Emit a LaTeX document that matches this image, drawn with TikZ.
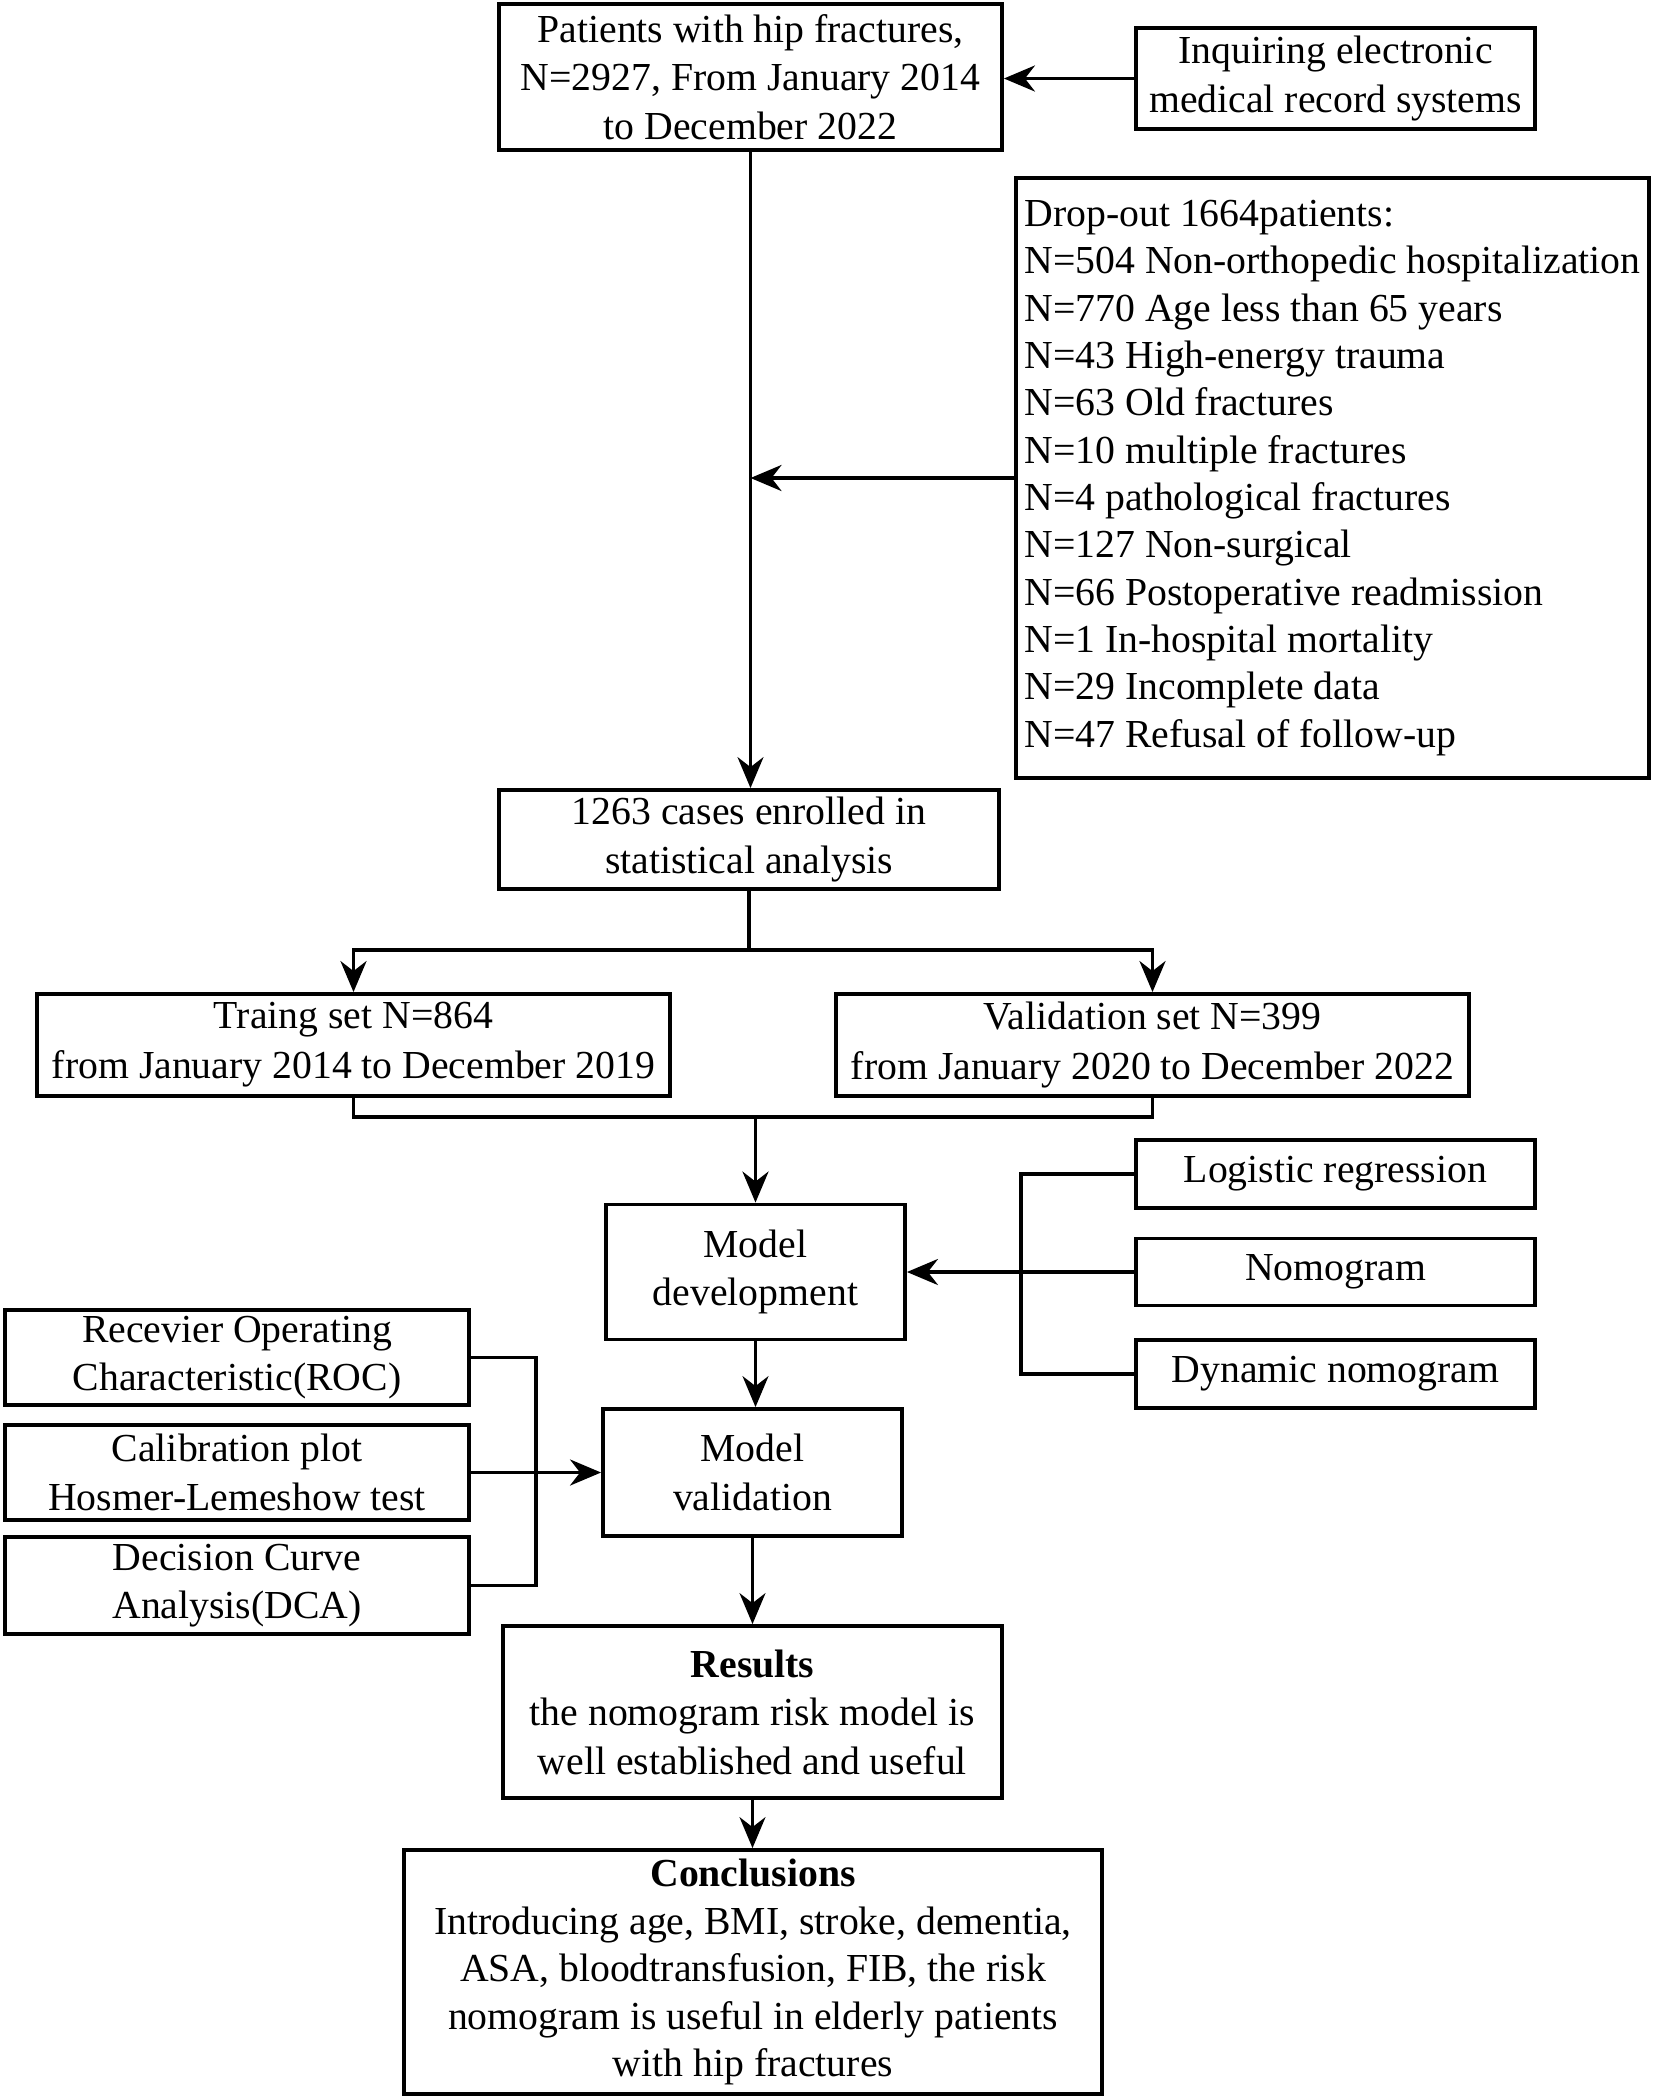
\documentclass[tikz,border=0pt]{standalone}
\usepackage{fontspec}
\setmainfont{Liberation Serif}
\usetikzlibrary{arrows.meta}
\begin{document}
\begin{tikzpicture}[x=0.1mm,y=-0.1mm,
  box/.style={draw, line width=1.1pt, align=center, inner sep=0pt, font=\fontsize{11.3}{13.8}\selectfont},
  thinline/.style={line width=0.7pt},
  thickline/.style={line width=1.1pt},
  arr/.style={-{Stealth[length=3.1mm,width=2.6mm,inset=1mm]}}]
\useasboundingbox[fill=white] (0,0) rectangle (1654,2099);

\node[box, minimum width=50.3mm, minimum height=14.6mm] (top) at (750.5,77) {Patients with hip fractures,\\N=2927, From January 2014\\to December 2022};
\node[box, minimum width=39.9mm, minimum height=10.1mm] (inq) at (1335.5,78.5) {Inquiring electronic\\medical record systems};
\node[box, minimum width=63.3mm, minimum height=60mm, align=left, font=\fontsize{11.3}{13.47}\selectfont] (drop) at (1332.5,478) {Drop-out 1664patients:\\N=504 Non-orthopedic hospitalization\\N=770 Age less than 65 years\\N=43 High-energy trauma\\N=63 Old fractures\\N=10 multiple fractures\\N=4 pathological fractures\\N=127 Non-surgical\\N=66 Postoperative readmission\\N=1 In-hospital mortality\\N=29 Incomplete data\\N=47 Refusal of follow-up};
\node[box, minimum width=50mm, minimum height=9.9mm] (enrol) at (749,839.5) {1263 cases enrolled in\\statistical analysis};
\node[box, minimum width=63.3mm, minimum height=10.2mm, font=\fontsize{11.3}{14.2}\selectfont] (train) at (353.5,1045) {Traing set N=864\\from January 2014 to December 2019};
\node[box, minimum width=63.3mm, minimum height=10.2mm, font=\fontsize{11.3}{14.2}\selectfont] (valid) at (1152.5,1045) {Validation set N=399\\from January 2020 to December 2022};
\node[box, minimum width=29.9mm, minimum height=13.5mm] (dev) at (755.5,1272) {Model\\development};
\node[box, minimum width=39.9mm, minimum height=6.8mm] (logi) at (1335.5,1174) {Logistic regression};
\node[box, minimum width=39.9mm, minimum height=6.7mm] (nomo) at (1335.5,1272) {Nomogram};
\node[box, minimum width=39.9mm, minimum height=6.8mm] (dyn) at (1335.5,1374) {Dynamic nomogram};
\node[box, minimum width=29.9mm, minimum height=12.7mm] (mval) at (752.5,1472.5) {Model\\validation};
\node[box, minimum width=46.4mm, minimum height=9.5mm] (roc) at (237,1357.5) {Recevier Operating\\Characteristic(ROC)};
\node[box, minimum width=46.4mm, minimum height=9.5mm] (cal) at (237,1472.5) {Calibration plot\\Hosmer-Lemeshow test};
\node[box, minimum width=46.4mm, minimum height=9.7mm] (dca) at (237,1585.5) {Decision Curve\\Analysis(DCA)};
\node[box, minimum width=49.9mm, minimum height=17.2mm] (res) at (752.5,1712) {\textbf{Results}\\the nomogram risk model is\\well established and useful};
\node[box, minimum width=69.8mm, minimum height=24.4mm, font=\fontsize{11.3}{13.5}\selectfont] (conc) at (753,1972) {\textbf{Conclusions}\\Introducing age, BMI, stroke, dementia,\\ASA, bloodtransfusion, FIB, the risk\\nomogram is useful in elderly patients\\with hip fractures};

\draw[thickline,arr] (inq.west) -- (inq.west -| top.east);
\draw[thinline,arr] (top.south) -- (top.south |- enrol.north);
\draw[thickline,arr] (drop.west) -- (drop.west -| top.south);
\coordinate (sp) at (749,950);
\draw[thickline] (enrol.south) -- (sp);
\draw[thickline,arr] (sp) -| (train.north);
\draw[thickline,arr] (sp) -| (valid.north);
\coordinate (jn) at (755.5,1117);
\draw[thickline] (train.south) |- (jn) -| (valid.south);
\draw[thickline,arr] (jn) -- (dev.north);
\coordinate (bk) at (1021,1272);
\draw[thickline] (logi.west) -| (bk);
\draw[thickline] (dyn.west) -| (bk);
\draw[thickline,arr] (nomo.west) -- (dev.east);
\draw[thinline,arr] (dev.south) -- (dev.south |- mval.north);
\coordinate (bk2) at (536,1472.5);
\draw[thickline] (roc.east) -| (bk2);
\draw[thickline] (dca.east) -| (bk2);
\draw[thickline,arr] (cal.east) -- (mval.west);
\draw[thinline,arr] (mval.south) -- (res.north);
\draw[thinline,arr] (res.south) -- (res.south |- conc.north);
\end{tikzpicture}
\end{document}
